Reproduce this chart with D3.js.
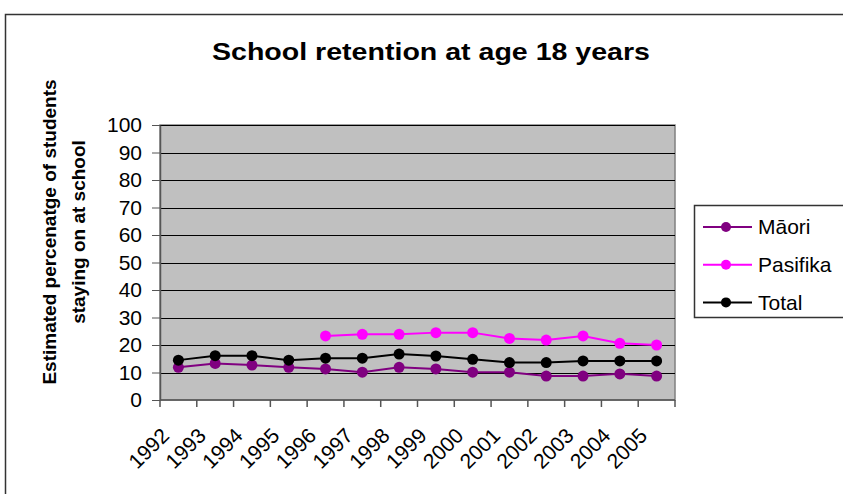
<!DOCTYPE html>
<html>
<head>
  <meta charset="UTF-8" />
  <title>School retention</title>
  <script src="https://d3js.org/d3.v7.min.js"></script>
  <style>
    body { margin: 0; background: #fff; }
    text { font-family: "Liberation Sans", Arial, sans-serif; }
  </style>
</head>
<body>
<div id="chart"></div>
<script>
  // data
  const years = ["1992", "1993", "1994", "1995", "1996", "1997", "1998", "1999", "2000", "2001", "2002", "2003", "2004", "2005"];
  const maori = [11.9, 13.3, 12.7, 11.9, 11.3, 10.1, 11.9, 11.3, 10.1, 10.1, 8.7, 8.7, 9.5, 8.7];
  const pasifika = [null, null, null, null, 23.3, 23.9, 23.9, 24.5, 24.5, 22.4, 21.8, 23.3, 20.6, 20.0];
  const total = [14.5, 16.1, 16.1, 14.5, 15.2, 15.2, 16.7, 16.0, 14.8, 13.6, 13.6, 14.2, 14.2, 14.2];
  const yTicks = [0, 10, 20, 30, 40, 50, 60, 70, 80, 90, 100];

  const series = [
    { name: "Māori", values: maori, color: "#800080" },
    { name: "Pasifika", values: pasifika, color: "#ff00ff" },
    { name: "Total", values: total, color: "#000000" }
  ];

  const W = 843, H = 494;
  const svg = d3.select("#chart").append("svg")
    .attr("width", W)
    .attr("height", H);

  // outer chart border
  svg.append("rect")
    .attr("x", 5.5).attr("y", 14.5)
    .attr("width", 860).attr("height", 500)
    .attr("fill", "white")
    .attr("stroke", "#333").attr("stroke-width", 1.5);

  const plot = { left: 160, right: 675, top: 125, bottom: 400 };

  const x = d3.scaleBand()
    .domain(years)
    .range([plot.left, plot.right]);
  const y = d3.scaleLinear()
    .domain([0, 100])
    .range([plot.bottom, plot.top]);

  // plot background
  svg.append("rect")
    .attr("x", plot.left).attr("y", plot.top)
    .attr("width", plot.right - plot.left)
    .attr("height", plot.bottom - plot.top)
    .attr("fill", "#c0c0c0")
    .attr("stroke", "#808080").attr("stroke-width", 1.5);

  // gridlines
  svg.append("g")
    .selectAll("line")
    .data(yTicks.slice(1))
    .enter().append("line")
    .attr("x1", plot.left).attr("x2", plot.right)
    .attr("y1", d => Math.round(y(d)) + 0.5)
    .attr("y2", d => Math.round(y(d)) + 0.5)
    .attr("stroke", "#000").attr("stroke-width", 1);

  // y axis
  const yAxis = d3.axisLeft(y).tickValues(yTicks).tickSize(8).tickSizeOuter(0);
  const gy = svg.append("g")
    .attr("transform", "translate(" + plot.left + ",0)")
    .call(yAxis);
  gy.select(".domain").attr("stroke", "#555").attr("stroke-width", 1.5);
  gy.selectAll(".tick line").attr("stroke", "#555");
  gy.selectAll(".tick text")
    .attr("font-size", 21)
    .attr("font-family", "Liberation Sans, Arial, sans-serif")
    .attr("fill", "#000")
    .attr("x", -18);

  // x axis: ticks at category boundaries
  const gx = svg.append("g");
  gx.append("line")
    .attr("x1", plot.left).attr("x2", plot.right)
    .attr("y1", plot.bottom).attr("y2", plot.bottom)
    .attr("stroke", "#555").attr("stroke-width", 1.5);
  gx.selectAll(".xt")
    .data(years.concat(["end"]))
    .enter().append("line")
    .attr("class", "xt")
    .attr("x1", (d, i) => i < years.length ? x(d) : plot.right)
    .attr("x2", (d, i) => i < years.length ? x(d) : plot.right)
    .attr("y1", plot.bottom).attr("y2", plot.bottom + 7)
    .attr("stroke", "#555").attr("stroke-width", 1.5);
  gx.selectAll(".xl")
    .data(years)
    .enter().append("text")
    .attr("class", "xl")
    .attr("transform", d => "translate(" + (x(d) + x.bandwidth() / 2 - 8) + ",437) rotate(-45)")
    .attr("text-anchor", "end")
    .attr("font-size", 21)
    .text(d => d);

  // lines and markers
  const line = d3.line()
    .defined(d => d != null)
    .x((d, i) => x(years[i]) + x.bandwidth() / 2)
    .y(d => y(d));

  series.forEach(s => {
    svg.append("path")
      .datum(s.values)
      .attr("fill", "none")
      .attr("stroke", s.color)
      .attr("stroke-width", 2)
      .attr("d", line);
    svg.append("g")
      .selectAll("circle")
      .data(s.values.map((v, i) => ({ v: v, year: years[i] })).filter(d => d.v != null))
      .enter().append("circle")
      .attr("cx", d => x(d.year) + x.bandwidth() / 2)
      .attr("cy", d => y(d.v))
      .attr("r", 5.5)
      .attr("fill", s.color);
  });

  // title
  svg.append("text")
    .attr("x", 212).attr("y", 60)
    .attr("font-size", 24)
    .attr("font-weight", "bold")
    .attr("textLength", 438)
    .attr("lengthAdjust", "spacingAndGlyphs")
    .text("School retention at age 18 years");

  // y axis title
  const yt = svg.append("text")
    .attr("transform", "translate(56,232) rotate(-90)")
    .attr("text-anchor", "middle")
    .attr("font-size", 19)
    .attr("font-weight", "bold");
  yt.append("tspan").attr("x", 0).attr("dy", 0).text("Estimated percenatge of students");
  yt.append("tspan").attr("x", 0).attr("dy", 29).text("staying on at school");

  // legend
  const lg = svg.append("g");
  lg.append("rect")
    .attr("x", 694.5).attr("y", 205.5)
    .attr("width", 160).attr("height", 112)
    .attr("fill", "white")
    .attr("stroke", "#333").attr("stroke-width", 1.5);
  const items = lg.selectAll(".li")
    .data(series)
    .enter().append("g")
    .attr("class", "li")
    .attr("transform", (d, i) => "translate(0," + (227 + i * 37.7) + ")");
  items.append("line")
    .attr("x1", 703).attr("x2", 752)
    .attr("stroke", d => d.color).attr("stroke-width", 2);
  items.append("circle")
    .attr("cx", 726).attr("r", 5)
    .attr("fill", d => d.color);
  items.append("text")
    .attr("x", 758).attr("dy", "0.35em")
    .attr("font-size", 21)
    .text(d => d.name);
</script>
</body>
</html>
